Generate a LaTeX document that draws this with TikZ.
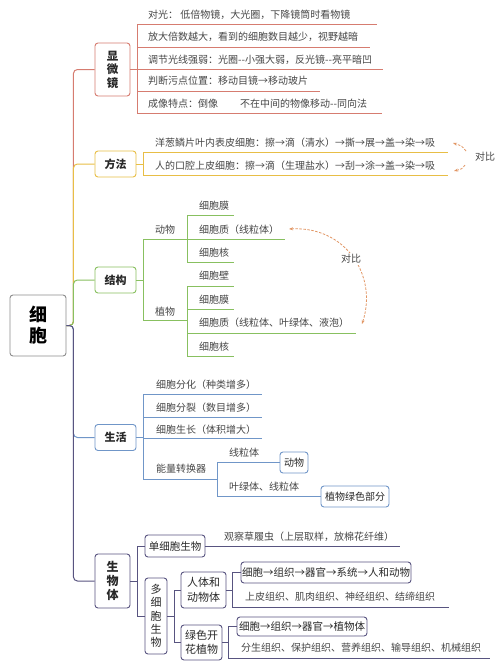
\documentclass[tikz,border=0pt]{standalone}
\usepackage{fontspec}
\setmainfont{Noto Sans CJK SC}
\usetikzlibrary{arrows.meta}
\definecolor{cred}{RGB}{214,124,112}
\definecolor{cyel}{RGB}{232,190,70}
\definecolor{cgrn}{RGB}{136,192,96}
\definecolor{cblu}{RGB}{112,150,200}
\definecolor{cpur}{RGB}{88,84,128}
\definecolor{cgry}{RGB}{140,140,140}
\definecolor{cora}{RGB}{226,150,100}
\definecolor{tx}{RGB}{70,70,70}
\definecolor{tb}{RGB}{40,40,40}
\begin{document}
\begin{tikzpicture}[x=1pt,y=-1pt,
  txt/.style={anchor=west,inner sep=0pt,font=\fontsize{10}{12}\selectfont,text=tx},
  box/.style={draw=#1,rounded corners=3pt,line width=0.9pt,fill=white,inner sep=0pt,text=tb,align=center},
  ln/.style={draw=#1,line width=0.9pt},
  conn/.style={draw=#1,line width=1pt,rounded corners=4pt},
  cmp/.style={draw=cora,line width=0.8pt,dash pattern=on 2.5pt off 1.5pt,-{Stealth[length=4pt,width=3pt]}}]
\useasboundingbox (0,0) rectangle (500,667);
\fill[white] (0,0) rectangle (500,667);

% main boxes
\node[box=cgry,minimum width=56,minimum height=61,font=\fontsize{18}{21}\selectfont\bfseries,text=black] (root) at (38,325.5) {细\\胞};
\node[box=cred,minimum width=35,minimum height=53,font=\fontsize{11.5}{13.5}\selectfont\bfseries] (xw) at (112.5,69.5) {显\\微\\镜};
\node[box=cyel,minimum width=41,minimum height=26,font=\fontsize{11}{13}\selectfont\bfseries] (ff) at (115.5,164) {方法};
\node[box=cgrn,minimum width=41,minimum height=26,font=\fontsize{11}{13}\selectfont\bfseries] (jg) at (115.5,280) {结构};
\node[box=cblu,minimum width=41,minimum height=26,font=\fontsize{11}{13}\selectfont\bfseries] (sh) at (115.5,437.5) {生活};
\node[box=cpur,minimum width=35,minimum height=54,font=\fontsize{12}{14}\selectfont\bfseries] (swt) at (112.5,581) {生\\物\\体};

% trunk connectors
\draw[conn=cred] (root.east) -- ++(7,0) |- (xw.west);
\draw[conn=cyel] (root.east) -- ++(7,0) |- (ff.west);
\draw[conn=cgrn] (root.east) -- ++(7,0) |- (jg.west);
\draw[conn=cblu] (root.east) -- ++(7,0) |- (sh.west);
\draw[conn=cpur] (root.east) -- ++(7,0) |- (swt.west);

% 显微镜
\coordinate (xa) at (137,24);
\coordinate (xb) at (137,113);
\draw[ln=cred] (xw.east) -- (137,69.5);
\draw[ln=cred] (xa) -- (xb);
\draw[ln=cred] (xa) -- (377,24);
\draw[ln=cred] (137,47) -- (370,47);
\draw[ln=cred] (137,69.5) -- (383,69.5);
\draw[ln=cred] (137,91) -- (320,91);
\draw[ln=cred] (xb) -- (382,113);
\node[txt] (x1) at (148,15) {对光： 低倍物镜，大光圈，下降镜筒时看物镜};
\node[txt] (x2) at (148,37) {放大倍数越大，看到的细胞数目越少，视野越暗};
\node[txt] (x3) at (148,59.5) {调节光线强弱：光圈{-}{-}小强大弱，反光镜{-}{-}亮平暗凹};
\node[txt] (x4) at (148,81) {判断污点位置：移动目镜→移动玻片};
\node[txt] (x5) at (148,104) {成像特点：倒像\hspace{22pt}不在中间的物像移动{-}{-}同向法};

% 方法
\coordinate (fa) at (143,152);
\coordinate (fb) at (143,175);
\draw[ln=cyel] (ff.east) -- (143,164);
\draw[ln=cyel] (fa) -- (fb);
\draw[ln=cyel] (fa) -- (448,152);
\draw[ln=cyel] (fb) -- (448,175);
\node[txt] (f1) at (155,143) {洋葱鳞片叶内表皮细胞：擦→滴（清水）→撕→展→盖→染→吸};
\node[txt] (f2) at (155,166) {人的口腔上皮细胞：擦→滴（生理盐水）→刮→涂→盖→染→吸};
\node[txt] (db1) at (475,157) {对比};
\draw[cmp] (466,151) .. controls (462,146) .. (453,143);
\draw[cmp] (465,165) .. controls (462,169) .. (454,171);

% 结构
\coordinate (ja) at (143,239);
\coordinate (jb) at (143,320);
\draw[ln=cgrn] (jg.east) -- (143,280);
\draw[ln=cgrn] (ja) -- (jb);
\draw[ln=cgrn] (ja) -- (187,239);
\draw[ln=cgrn] (jb) -- (187,320);
\node[txt] (dw1) at (155,230) {动物};
\node[txt] (zw1) at (155,312) {植物};
\draw[ln=cgrn] (187,215) -- (187,262);
\draw[ln=cgrn] (187,215) -- (234,215);
\draw[ln=cgrn] (187,239) -- (285,239);
\draw[ln=cgrn] (187,262) -- (234,262);
\node[txt] (a1) at (199,206) {细胞膜};
\node[txt] (a2) at (199,230) {细胞质（线粒体）};
\node[txt] (a3) at (199,253) {细胞核};
\draw[ln=cgrn] (187,286) -- (187,356);
\draw[ln=cgrn] (187,286) -- (234,286);
\draw[ln=cgrn] (187,309) -- (234,309);
\draw[ln=cgrn] (187,333) -- (356,333);
\draw[ln=cgrn] (187,356) -- (234,356);
\node[txt] (p1) at (199,276) {细胞壁};
\node[txt] (p2) at (199,299.5) {细胞膜};
\node[txt] (p3) at (199,323) {细胞质（线粒体、叶绿体、液泡）};
\node[txt] (p4) at (199,347) {细胞核};
\draw[cmp,{Stealth[length=4pt,width=3pt]}-{Stealth[length=4pt,width=3pt]}] (289,229) .. controls (345,226) and (378,275) .. (362,324);
\node[txt,fill=white,inner sep=1pt] (db2) at (340,259) {对比};

% 生活
\draw[ln=cblu] (sh.east) -- (143,437.5);
\draw[ln=cblu] (143,394) -- (143,479);
\draw[ln=cblu] (143,394) -- (262,394);
\draw[ln=cblu] (143,417) -- (262,417);
\draw[ln=cblu] (143,438) -- (262,438);
\draw[ln=cblu] (143,479) -- (217,479);
\node[txt] (s1) at (156,385) {细胞分化（种类增多）};
\node[txt] (s2) at (156,408) {细胞分裂（数目增多）};
\node[txt] (s3) at (156,430) {细胞生长（体积增大）};
\node[txt] (s4) at (156,469) {能量转换器};
\node[box=cblu,minimum width=28,minimum height=21,font=\fontsize{10}{12}\selectfont] (dw2) at (294,462.5) {动物};
\node[box=cblu,minimum width=68,minimum height=21,font=\fontsize{10}{12}\selectfont] (zwl) at (355,496.5) {植物绿色部分};
\draw[ln=cblu] (217,462.5) -- (217,496.5);
\draw[ln=cblu] (217,462.5) -- (dw2.west);
\draw[ln=cblu] (217,496.5) -- (zwl.west);
\node[txt] (e1) at (229,453) {线粒体};
\node[txt] (e2) at (229,487) {叶绿体、线粒体};

% 生物体
\node[box=cpur,minimum width=60,minimum height=22,font=\fontsize{10.5}{12}\selectfont] (dxb) at (175,546) {单细胞生物};
\node[box=cpur,minimum width=22,minimum height=76,font=\fontsize{11}{13.3}\selectfont] (dxsw) at (156,616) {多\\细\\胞\\生\\物};
\draw[ln=cpur] (swt.east) -- (137,581);
\draw[ln=cpur] (137,546) -- (137,616);
\draw[ln=cpur] (137,546) -- (dxb.west);
\draw[ln=cpur] (137,616) -- (dxsw.west);
\draw[ln=cpur] (dxb.east) -- (400,546);
\node[txt] (g1) at (224,537) {观察草履虫（上层取样，放棉花纤维）};

\node[box=cpur,minimum width=45,minimum height=36,font=\fontsize{11}{14.5}\selectfont] (rt) at (203.5,590) {人体和\\动物体};
\node[box=cpur,minimum width=41,minimum height=35,font=\fontsize{11}{14.5}\selectfont] (lh) at (201.5,642.5) {绿色开\\花植物};
\draw[ln=cpur] (dxsw.east) -- (174,616);
\draw[ln=cpur] (174,590) -- (174,642.5);
\draw[ln=cpur] (174,590) -- (rt.west);
\draw[ln=cpur] (174,642.5) -- (lh.west);

\node[box=cpur,minimum width=170,minimum height=21,font=\fontsize{10.5}{12}\selectfont] (b1) at (326,572.5) {细胞→组织→器官→系统→人和动物};
\draw[ln=cpur] (rt.east) -- (232,590);
\draw[ln=cpur] (232,572.5) -- (232,607);
\draw[ln=cpur] (232,572.5) -- (b1.west);
\draw[ln=cpur] (232,607) -- (449,607);
\node[txt] (t1) at (245,597) {上皮组织、肌肉组织、神经组织、结缔组织};

\node[box=cpur,minimum width=130,minimum height=19,font=\fontsize{10.5}{12}\selectfont] (b2) at (302,626.5) {细胞→组织→器官→植物体};
\draw[ln=cpur] (lh.east) -- (228,642.5);
\draw[ln=cpur] (228,626.5) -- (228,658);
\draw[ln=cpur] (228,626.5) -- (b2.west);
\draw[ln=cpur] (228,658) -- (490,658);
\node[txt] (t2) at (241,648) {分生组织、保护组织、营养组织、输导组织、机械组织};
\end{tikzpicture}
\end{document}
